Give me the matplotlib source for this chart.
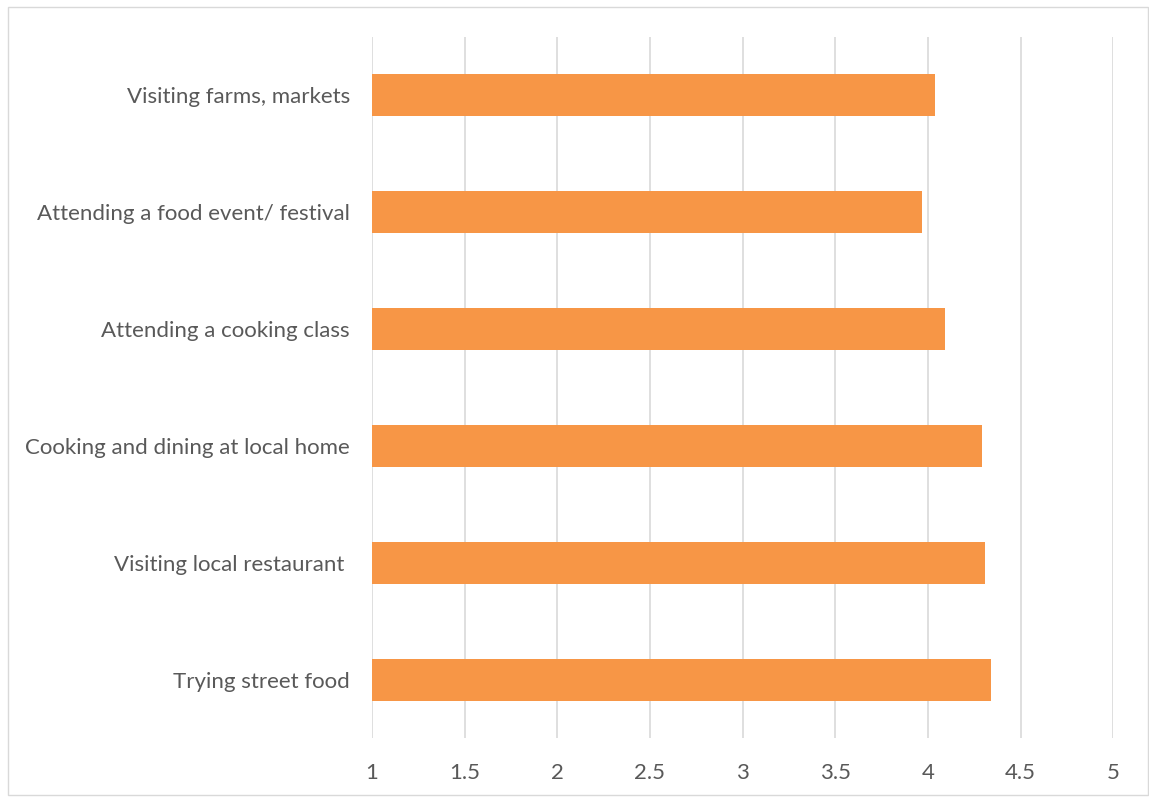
import matplotlib
matplotlib.use("Agg")
import matplotlib.pyplot as plt
from matplotlib.patches import Rectangle

categories = ["Trying street food", "Visiting local restaurant ", "Cooking and dining at local home",
              "Attending a cooking class", "Attending a food event/ festival", "Visiting farms, markets"]
values = [4.34, 4.31, 4.29, 4.09, 3.97, 4.04]
xticks = [1, 1.5, 2, 2.5, 3, 3.5, 4, 4.5, 5]
xticklabels = ["1", "1.5", "2", "2.5", "3", "3.5", "4", "4.5", "5"]

plt.rcParams['font.family'] = ['Lato', 'DejaVu Sans']

fig = plt.figure(figsize=(11.49, 7.97), dpi=100)
fig.patches.append(Rectangle((8/1149, 1 - 795/797), 1140/1149, 788/797, transform=fig.transFigure,
                             fill=False, edgecolor="#D9D9D9", linewidth=1.0))
ax = fig.add_axes([372/1149, 1 - 738/797, (1113.3 - 372)/1149, (738 - 37)/797])

y = list(range(len(categories)))
ax.barh(y, [v - 1 for v in values], left=1, height=0.36, color="#F79646", zorder=3)
ax.set_xlim(1, 5)
ax.set_ylim(-0.5, len(categories) - 0.5)
ax.set_xticks(xticks)
ax.set_xticklabels(xticklabels)
ax.set_yticks(y)
ax.set_yticklabels(categories)
ax.grid(axis="x", color="#D9D9D9", linewidth=1.2, zorder=0)
for s in ax.spines.values():
    s.set_visible(False)
ax.tick_params(axis="both", length=0, colors="#595959", labelsize=16)
ax.tick_params(axis="x", pad=18)
ax.tick_params(axis="y", pad=16)

fig.savefig("out.png", dpi=100)
